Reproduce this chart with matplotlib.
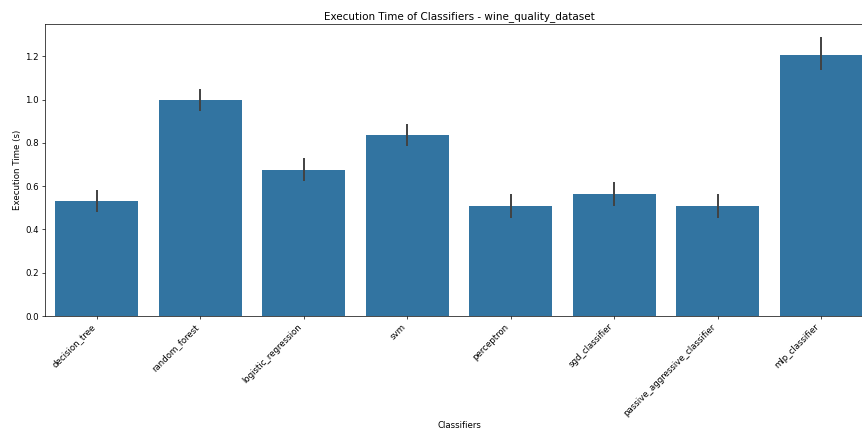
import numpy as np
import matplotlib
matplotlib.use("Agg")
import matplotlib.pyplot as plt

classifiers = ["decision_tree", "random_forest", "logistic_regression", "svm",
               "perceptron", "sgd_classifier", "passive_aggressive_classifier",
               "mlp_classifier"]
mean_time = [0.533, 1.000, 0.676, 0.837, 0.508, 0.563, 0.510, 1.207]
ci_low = [0.481, 0.948, 0.624, 0.786, 0.453, 0.510, 0.454, 1.136]
ci_high = [0.584, 1.049, 0.730, 0.888, 0.564, 0.618, 0.564, 1.288]

dpi = 62.5
fig = plt.figure(figsize=(862 / dpi, 432 / dpi), dpi=dpi)
# the original was wider and got cut on the right side
ax = fig.add_axes([45 / 862, 1 - 316 / 432, 828 / 862, 292 / 432])

x = np.arange(len(classifiers))
mean_time = np.array(mean_time)
yerr = [mean_time - np.array(ci_low), np.array(ci_high) - mean_time]
ax.bar(x, mean_time, width=0.8, color="#3274a1")
ax.errorbar(x, mean_time, yerr=yerr, fmt="none", ecolor=(0.26, 0.26, 0.26),
            elinewidth=2.25, capsize=0)

ax.set_xlim(-0.5, len(classifiers) - 0.5)
ax.set_ylim(0, 1.349)
ax.set_xticks(x)
ax.set_xticklabels(classifiers, rotation=45, ha="right")
ax.set_xlabel("Classifiers")
ax.set_ylabel("Execution Time (s)")
ax.set_title("Execution Time of Classifiers - wine_quality_dataset")

fig.savefig("out.png", dpi=dpi)
